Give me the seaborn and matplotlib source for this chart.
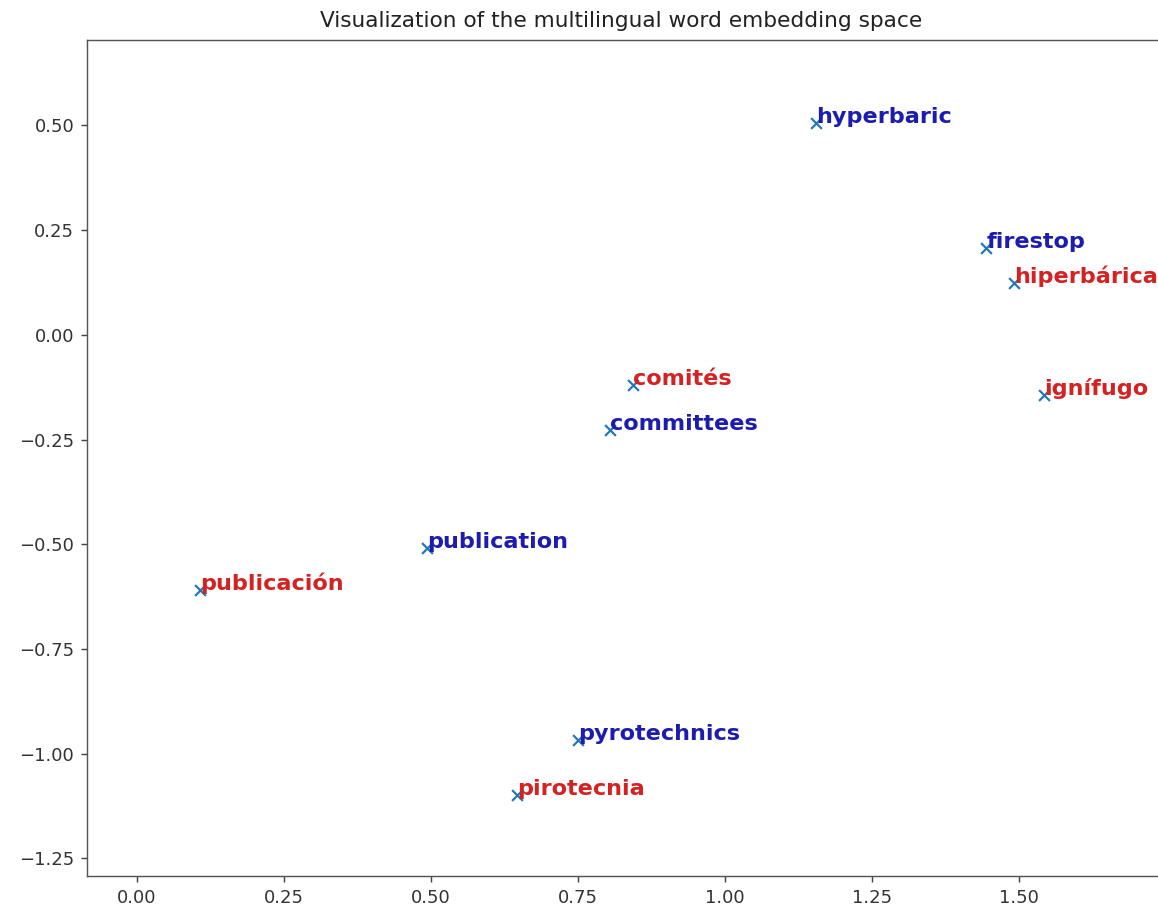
import matplotlib
matplotlib.use("Agg")
import matplotlib.pyplot as plt
import seaborn as sns
import pandas as pd

words = ["hyperbaric", "firestop", "hiperbárica", "comités", "ignífugo",
         "committees", "publication", "publicación", "pyrotechnics", "pirotecnia"]
xs = [1.155, 1.445, 1.492, 0.843, 1.543, 0.804, 0.494, 0.107, 0.750, 0.646]
ys = [0.506, 0.208, 0.124, -0.119, -0.143, -0.227, -0.509, -0.609, -0.967, -1.098]
langs = ["en", "en", "es", "es", "es", "en", "en", "es", "en", "es"]
lang_colors = {"en": "#1c1cb0", "es": "#d42222"}

df = pd.DataFrame({"word": words, "x": xs, "y": ys, "lang": langs})

fig = plt.figure(figsize=(1158 / 130, 911 / 130), dpi=130)
ax = fig.add_axes([87 / 1158, 1 - 876 / 911, (1161 - 87) / 1158, (876 - 40) / 911])

sns.scatterplot(data=df, x="x", y="y", marker="x", color="#1f77b4",
                s=36, linewidth=1.2, ax=ax, legend=False)

for w, x, y, l in zip(df["word"], df["x"], df["y"], df["lang"]):
    ax.text(x, y, w, color=lang_colors[l], fontsize=12.4, fontweight="bold",
            ha="left", va="baseline")

ax.set_xlim(-0.085, 1.742)
ax.set_ylim(-1.292, 0.704)
ax.set_xticks([0.0, 0.25, 0.5, 0.75, 1.0, 1.25, 1.5])
ax.set_yticks([0.5, 0.25, 0.0, -0.25, -0.5, -0.75, -1.0, -1.25])
ax.set_xlabel("")
ax.set_ylabel("")
ax.tick_params(colors="#444444", labelcolor="#333333")
for sp in ax.spines.values():
    sp.set_color("#555555")
fig.text((87 + 1155) / 2 / 1158, 1 - 21 / 911,
         "Visualization of the multilingual word embedding space",
         fontsize=12, ha="center", va="center", color="#222222")

fig.savefig("out.png", dpi=130)
